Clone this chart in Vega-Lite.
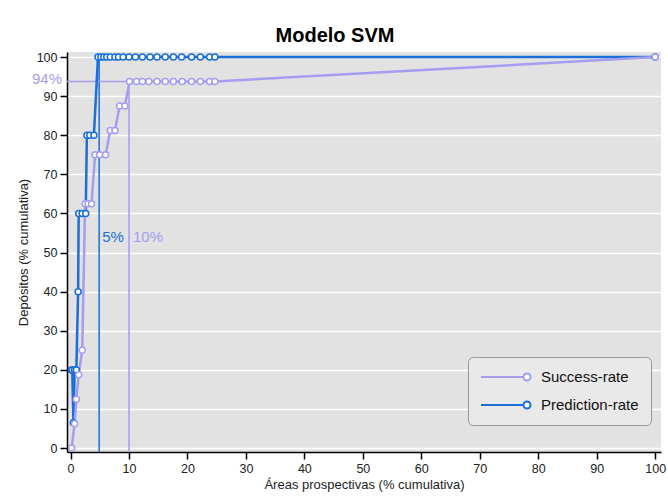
{
  "$schema": "https://vega.github.io/schema/vega-lite/v6.json",
  "width": 594,
  "height": 400,
  "autosize": "none",
  "padding": {"left": 67, "top": 52, "right": 7, "bottom": 46},
  "background": "white",
  "title": {"text": "Modelo SVM", "font": "Liberation Sans", "fontSize": 20, "fontWeight": "bold", "color": "black", "offset": 5, "anchor": "middle", "dx": -29},
  "config": {
    "view": {"fill": "#e2e2e2", "stroke": null},
    "font": "Liberation Sans",
    "axis": {"domainColor": "black", "domainWidth": 1.5, "tickColor": "black", "tickWidth": 1.5, "tickSize": 7, "labelFont": "Liberation Sans", "labelFontSize": 12.5, "labelColor": "#222", "labelOverlap": false, "titleFont": "Liberation Sans", "titleFontSize": 13, "titleFontWeight": "normal", "titleColor": "#222"}
  },
  "datasets": {
    "curves": [
      {"serie": "Prediction-rate", "x": 0.5, "y": 6.5},
      {"serie": "Prediction-rate", "x": 0.15, "y": 20},
      {"serie": "Prediction-rate", "x": 0.3, "y": 20},
      {"serie": "Prediction-rate", "x": 0.7, "y": 20},
      {"serie": "Prediction-rate", "x": 1.0, "y": 20},
      {"serie": "Prediction-rate", "x": 1.3, "y": 40},
      {"serie": "Prediction-rate", "x": 1.4, "y": 60},
      {"serie": "Prediction-rate", "x": 2.0, "y": 60},
      {"serie": "Prediction-rate", "x": 2.6, "y": 60},
      {"serie": "Prediction-rate", "x": 2.8, "y": 80},
      {"serie": "Prediction-rate", "x": 3.3, "y": 80},
      {"serie": "Prediction-rate", "x": 4.0, "y": 80},
      {"serie": "Prediction-rate", "x": 4.7, "y": 100},
      {"serie": "Prediction-rate", "x": 5.2, "y": 100},
      {"serie": "Prediction-rate", "x": 5.7, "y": 100},
      {"serie": "Prediction-rate", "x": 6.2, "y": 100},
      {"serie": "Prediction-rate", "x": 6.8, "y": 100},
      {"serie": "Prediction-rate", "x": 7.6, "y": 100},
      {"serie": "Prediction-rate", "x": 8.2, "y": 100},
      {"serie": "Prediction-rate", "x": 9.0, "y": 100},
      {"serie": "Prediction-rate", "x": 10.0, "y": 100},
      {"serie": "Prediction-rate", "x": 11.1, "y": 100},
      {"serie": "Prediction-rate", "x": 12.3, "y": 100},
      {"serie": "Prediction-rate", "x": 13.6, "y": 100},
      {"serie": "Prediction-rate", "x": 14.8, "y": 100},
      {"serie": "Prediction-rate", "x": 16.2, "y": 100},
      {"serie": "Prediction-rate", "x": 17.6, "y": 100},
      {"serie": "Prediction-rate", "x": 19.0, "y": 100},
      {"serie": "Prediction-rate", "x": 20.7, "y": 100},
      {"serie": "Prediction-rate", "x": 22.2, "y": 100},
      {"serie": "Prediction-rate", "x": 23.8, "y": 100},
      {"serie": "Prediction-rate", "x": 24.7, "y": 100},
      {"serie": "Prediction-rate", "x": 100, "y": 100},
      {"serie": "Success-rate", "x": 0.2, "y": 0},
      {"serie": "Success-rate", "x": 0.7, "y": 6.25},
      {"serie": "Success-rate", "x": 1.0, "y": 12.5},
      {"serie": "Success-rate", "x": 1.4, "y": 18.75},
      {"serie": "Success-rate", "x": 2.0, "y": 25},
      {"serie": "Success-rate", "x": 2.5, "y": 62.5},
      {"serie": "Success-rate", "x": 3.0, "y": 62.5},
      {"serie": "Success-rate", "x": 3.6, "y": 62.5},
      {"serie": "Success-rate", "x": 4.2, "y": 75},
      {"serie": "Success-rate", "x": 5.0, "y": 75},
      {"serie": "Success-rate", "x": 6.0, "y": 75},
      {"serie": "Success-rate", "x": 6.8, "y": 81.25},
      {"serie": "Success-rate", "x": 7.6, "y": 81.25},
      {"serie": "Success-rate", "x": 8.4, "y": 87.5},
      {"serie": "Success-rate", "x": 9.3, "y": 87.5},
      {"serie": "Success-rate", "x": 10.1, "y": 93.75},
      {"serie": "Success-rate", "x": 11.3, "y": 93.75},
      {"serie": "Success-rate", "x": 12.3, "y": 93.75},
      {"serie": "Success-rate", "x": 13.4, "y": 93.75},
      {"serie": "Success-rate", "x": 14.8, "y": 93.75},
      {"serie": "Success-rate", "x": 16.2, "y": 93.75},
      {"serie": "Success-rate", "x": 17.6, "y": 93.75},
      {"serie": "Success-rate", "x": 19.1, "y": 93.75},
      {"serie": "Success-rate", "x": 20.7, "y": 93.75},
      {"serie": "Success-rate", "x": 22.2, "y": 93.75},
      {"serie": "Success-rate", "x": 23.8, "y": 93.75},
      {"serie": "Success-rate", "x": 24.7, "y": 93.75},
      {"serie": "Success-rate", "x": 100, "y": 100}
    ],
    "refs": [
      {"serie": "Prediction-rate", "x": 4.9, "y": -1, "y2": 100, "ly": 54, "label": "5%"},
      {"serie": "Success-rate", "x": 10.0, "y": -1, "y2": 93.75, "ly": 54, "label": "10%"}
    ],
    "hrule": [
      {"serie": "Success-rate", "x": -0.6, "x2": 10.0, "y": 93.75, "label": "94%"}
    ]
  },
  "encoding": {
    "x": {"field": "x", "type": "quantitative", "scale": {"domain": [-0.6, 101], "nice": false, "zero": false}, "axis": {"values": [0,10,20,30,40,50,60,70,80,90,100], "grid": false, "title": "Áreas prospectivas (% cumulativa)", "titlePadding": 4, "labelPadding": 3}},
    "y": {"field": "y", "type": "quantitative", "scale": {"domain": [-1, 101.3], "nice": false, "zero": false}, "axis": {"values": [0,10,20,30,40,50,60,70,80,90,100], "grid": true, "gridColor": "white", "gridWidth": 1.5, "title": "Depósitos (% cumulativa)", "titlePadding": 6, "labelPadding": 3}}
  },
  "layer": [
    {
      "data": {"name": "refs"},
      "transform": [{"filter": "datum.serie === 'Prediction-rate'"}],
      "mark": {"type": "rule", "strokeWidth": 1.5, "color": "#1b6fd8"},
      "encoding": {"y2": {"field": "y2"}}
    },
    {
      "data": {"name": "refs"},
      "transform": [{"filter": "datum.serie === 'Success-rate'"}],
      "mark": {"type": "rule", "strokeWidth": 1.5, "color": "#a59df0"},
      "encoding": {"y2": {"field": "y2"}}
    },
    {
      "data": {"name": "hrule"},
      "mark": {"type": "rule", "strokeWidth": 1.5, "color": "#a59df0"},
      "encoding": {"x2": {"field": "x2"}}
    },
    {
      "data": {"name": "refs"},
      "transform": [{"filter": "datum.serie === 'Prediction-rate'"}],
      "mark": {"type": "text", "align": "left", "baseline": "middle", "dx": 3, "fontSize": 15, "font": "Liberation Sans", "color": "#1b6fd8"},
      "encoding": {"y": {"field": "ly", "type": "quantitative"}, "text": {"field": "label"}}
    },
    {
      "data": {"name": "refs"},
      "transform": [{"filter": "datum.serie === 'Success-rate'"}],
      "mark": {"type": "text", "align": "left", "baseline": "middle", "dx": 4, "fontSize": 15, "font": "Liberation Sans", "color": "#a59df0"},
      "encoding": {"y": {"field": "ly", "type": "quantitative"}, "text": {"field": "label"}}
    },
    {
      "data": {"name": "hrule"},
      "mark": {"type": "text", "align": "right", "baseline": "middle", "dx": -5, "dy": -3, "fontSize": 15, "font": "Liberation Sans", "color": "#a59df0"},
      "encoding": {"text": {"field": "label"}}
    },
    {
      "data": {"name": "curves"},
      "mark": {"type": "line", "strokeWidth": 2.5, "point": {"filled": false, "fill": "white", "size": 36, "strokeWidth": 1.5}},
      "encoding": {
        "order": {"field": "x"},
        "color": {
          "field": "serie", "type": "nominal",
          "scale": {"domain": ["Success-rate", "Prediction-rate"], "range": ["#a59df0", "#1b6fd8"]},
          "legend": {
            "title": null, "orient": "none", "legendX": 401, "legendY": 305,
            "fillColor": "#e9e9e9", "strokeColor": "#999", "cornerRadius": 5,
            "padding": 12, "rowPadding": 12,
            "symbolType": "M-1,0L5.07,0M6.07,0A0.5,0.5,0,1,1,5.07,0A0.5,0.5,0,1,1,6.07,0Z",
            "symbolSize": 196, "symbolStrokeWidth": 2, "symbolFillColor": "white",
            "labelFontSize": 15, "labelFont": "Liberation Sans", "labelColor": "#111", "labelOffset": 45,
            "encode": {"symbols": {"update": {"fill": {"value": "white"}}}}
          }
        }
      }
    }
  ]
}
